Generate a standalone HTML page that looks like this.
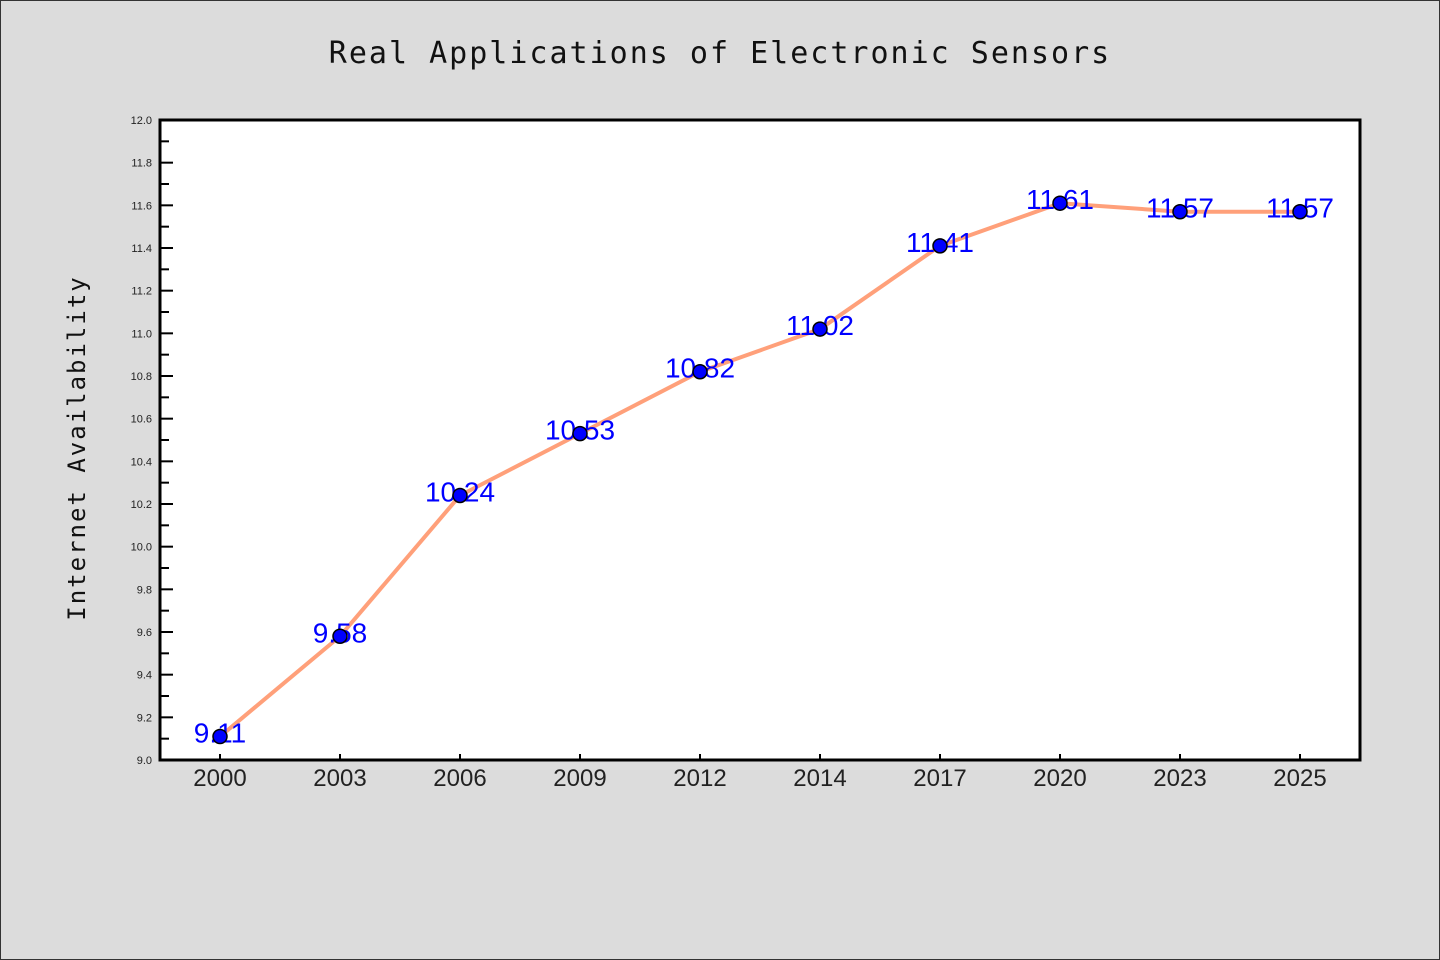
<!DOCTYPE html>
<html><head><meta charset="utf-8"><style>
html,body{margin:0;padding:0;background:#dcdcdc;}
svg{display:block;font-family:"Liberation Sans","DejaVu Sans",sans-serif;}
</style></head><body>
<svg id="chart" width="1440" height="960">
<rect x="0.5" y="0.5" width="1439" height="959" fill="#dcdcdc" stroke="#333"/>
<text x="720" y="63" text-anchor="middle" font-size="30" letter-spacing="2" fill="#111" font-family="DejaVu Sans Mono, monospace">Real Applications of Electronic Sensors</text>
<rect x="160" y="120" width="1200" height="640" fill="#fff"/>
<text transform="translate(85,448) rotate(-90)" text-anchor="middle" font-size="24" letter-spacing="2" fill="#111" font-family="DejaVu Sans Mono, monospace">Internet Availability</text>
<g id="ticks"></g>
<g id="series"></g>
<rect x="160" y="120" width="1200" height="640" fill="none" stroke="#000" stroke-width="3"/>
</svg>
<script>
const categories=["2000","2003","2006","2009","2012","2014","2017","2020","2023","2025"];
const values=[9.11,9.58,10.24,10.53,10.82,11.02,11.41,11.61,11.57,11.57];
const yTicks=["9.0","9.2","9.4","9.6","9.8","10.0","10.2","10.4","10.6","10.8","11.0","11.2","11.4","11.6","11.8","12.0"];
const yMin=9,yMax=12,L=160,R=1360,T=120,B=760;
const NS="http://www.w3.org/2000/svg";
function y(v){return B-(v-yMin)/(yMax-yMin)*(B-T);}
function x(i){return L+(R-L)/categories.length*(i+0.5);}
function mk(tag,attrs,parent){const e=document.createElementNS(NS,tag);for(const k in attrs)e.setAttribute(k,attrs[k]);parent.appendChild(e);return e;}
const tg=document.getElementById('ticks'),sg=document.getElementById('series');
yTicks.forEach((t,i)=>{
  const v=parseFloat(t),yy=y(v);
  const ln=mk('line',{x1:L,x2:L+13,y1:yy,y2:yy,stroke:'#000','stroke-width':2},tg);
  
  
  const tx=mk('text',{x:L-8,y:yy+4,'text-anchor':'end','font-size':11,fill:'#222'},tg);
  tx.textContent=t;
  
  
  if(i<yTicks.length-1){
    const ym=y(v+0.1);
    const mn=mk('line',{x1:L,x2:L+9,y1:ym,y2:ym,stroke:'#000','stroke-width':2},tg);
    
    
  }
});
categories.forEach((c,i)=>{
  const xx=x(i);
  const ln=mk('line',{x1:xx,x2:xx,y1:B,y2:B-6,stroke:'#000','stroke-width':2},tg);
  
  
  const tx=mk('text',{x:xx,y:B+26,'text-anchor':'middle','font-size':24,fill:'#222'},tg);
  tx.textContent=c;
  
  
});
const pl=mk('polyline',{points:values.map((v,i)=>x(i)+','+y(v)).join(' '),fill:'none',stroke:'#FFA07A','stroke-width':4,'stroke-linejoin':'round'},sg);


values.forEach((v,i)=>{
  const tx=mk('text',{x:x(i),y:y(v)+6,'text-anchor':'middle','font-size':28,fill:'#0000ff'},sg);
  tx.textContent=v.toFixed(2);
  
  
});
values.forEach((v,i)=>{
  const c=mk('circle',{cx:x(i),cy:y(v),r:7,fill:'#0000ff',stroke:'#000','stroke-width':1.5},sg);
  
  
});
</script>
</body></html>
